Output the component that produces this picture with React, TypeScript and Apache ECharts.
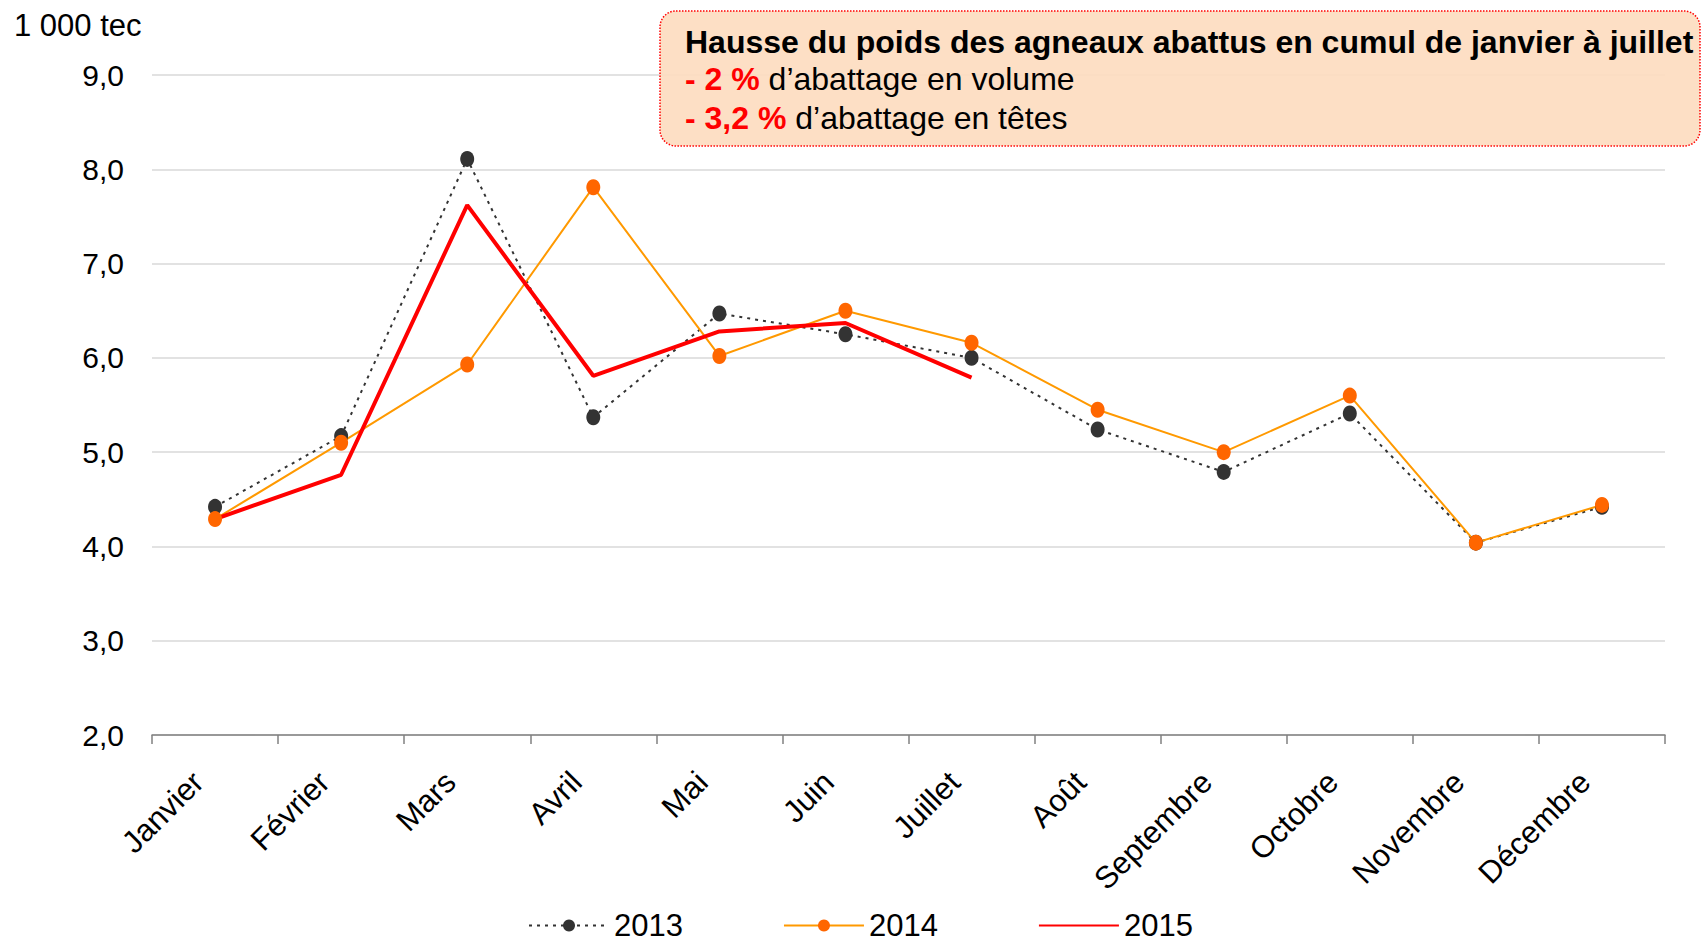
import React, { useEffect, useRef } from "react";
import * as echarts from "echarts";

const months = ["Janvier", "Février", "Mars", "Avril", "Mai", "Juin", "Juillet", "Août", "Septembre", "Octobre", "Novembre", "Décembre"];
const seriesNames = ["2013", "2014", "2015"];
const v2013 = [4.42, 5.17, 8.11, 5.37, 6.47, 6.25, 6.0, 5.24, 4.79, 5.41, 4.04, 4.42];
const v2014 = [4.29, 5.1, 5.93, 7.81, 6.02, 6.5, 6.16, 5.45, 5.0, 5.6, 4.04, 4.44];
const v2015 = [4.29, 4.76, 7.62, 5.81, 6.28, 6.37, 5.79];
const unitLabel = "1 000 tec";
const noteTitle = "Hausse du poids des agneaux abattus en cumul de janvier à juillet";
const noteLine1 = ["- 2 %", " d’abattage en volume"];
const noteLine2 = ["- 3,2 %", " d’abattage en têtes"];

const FONT = "'Liberation Sans', Arial, sans-serif";

export default function App() {
  const ref = useRef<HTMLDivElement>(null);
  useEffect(() => {
    const chart = echarts.init(ref.current!, null, { renderer: "svg" });
    const option: any = {
      animation: false,
      backgroundColor: "#ffffff",
      textStyle: { fontFamily: FONT },
      grid: { left: 152, right: 39, top: 75, bottom: 208, containLabel: false },
      xAxis: {
        type: "category",
        data: months,
        boundaryGap: true,
        axisLine: { show: true, lineStyle: { color: "#808080", width: 1.5 } },
        axisTick: { show: true, length: 9, lineStyle: { color: "#808080", width: 1.5 } },
        axisLabel: {
          rotate: 45,
          margin: 25,
          fontSize: 31,
          color: "#000",
          fontFamily: FONT,
          padding: [0, 24, 0, 0],
        },
        splitLine: { show: false },
      },
      yAxis: {
        type: "value",
        min: 2,
        max: 9,
        interval: 1,
        axisLine: { show: false },
        axisTick: { show: false },
        axisLabel: {
          fontSize: 30,
          color: "#000",
          margin: 28,
          fontFamily: FONT,
          formatter: (v: number) => v.toFixed(1).replace(".", ","),
        },
        splitLine: { show: true, lineStyle: { color: "#D9D9D9", width: 1.5 } },
      },
      legend: {
        data: [
          seriesNames[0],
          seriesNames[1],
          { name: seriesNames[2], itemStyle: { opacity: 0 } },
        ],
        left: 523,
        top: 905,
        itemWidth: 80,
        itemHeight: 15,
        itemGap: 100,
        textStyle: { fontSize: 31, color: "#000", fontFamily: FONT },
      },
      series: [
        {
          name: seriesNames[0],
          type: "line",
          data: v2013,
          symbol: "circle",
          symbolSize: [14, 16],
          lineStyle: { color: "#333333", width: 2, type: [3, 5] },
          itemStyle: { color: "#333333" },
        },
        {
          name: seriesNames[1],
          type: "line",
          data: v2014,
          symbol: "circle",
          symbolSize: [14, 16],
          lineStyle: { color: "#FF9900", width: 2 },
          itemStyle: { color: "#FF6600" },
        },
        {
          name: seriesNames[2],
          type: "line",
          data: v2015,
          symbol: "none",
          showSymbol: false,
          lineStyle: { color: "#FF0000", width: 4 },
          itemStyle: { color: "#FF0000" },
        },
      ],
      graphic: [
        {
          type: "text",
          left: 14,
          top: 10,
          style: { text: unitLabel, font: `31px ${FONT}`, fill: "#000" },
        },
        {
          type: "rect",
          shape: { x: 660, y: 11, width: 1040, height: 135, r: 16 },
          style: { fill: "rgba(253,220,192,0.92)", stroke: "#FF0000", lineWidth: 1.5, lineDash: [1.5, 1.5] },
          z: 10,
        },
        {
          type: "text",
          x: 685,
          y: 42,
          z: 11,
          style: {
            text: noteTitle,
            font: `bold 32px ${FONT}`,
            fill: "#000",
            verticalAlign: "middle",
          },
        },
        {
          type: "text",
          x: 685,
          y: 79,
          z: 11,
          style: {
            text: `{r|${noteLine1[0]}}{n|${noteLine1[1]}}`,
            verticalAlign: "middle",
            rich: {
              r: { font: `bold 32px ${FONT}`, fill: "#FF0000" },
              n: { font: `32px ${FONT}`, fill: "#000" },
            },
          },
        },
        {
          type: "text",
          x: 685,
          y: 118,
          z: 11,
          style: {
            text: `{r|${noteLine2[0]}}{n|${noteLine2[1]}}`,
            verticalAlign: "middle",
            rich: {
              r: { font: `bold 32px ${FONT}`, fill: "#FF0000" },
              n: { font: `32px ${FONT}`, fill: "#000" },
            },
          },
        },
      ],
    };
    chart.setOption(option);
    return () => chart.dispose();
  }, []);
  return (
    <div
      ref={ref}
      style={{ position: "fixed", left: 0, top: 0, width: 1704, height: 943 }}
    />
  );
}
